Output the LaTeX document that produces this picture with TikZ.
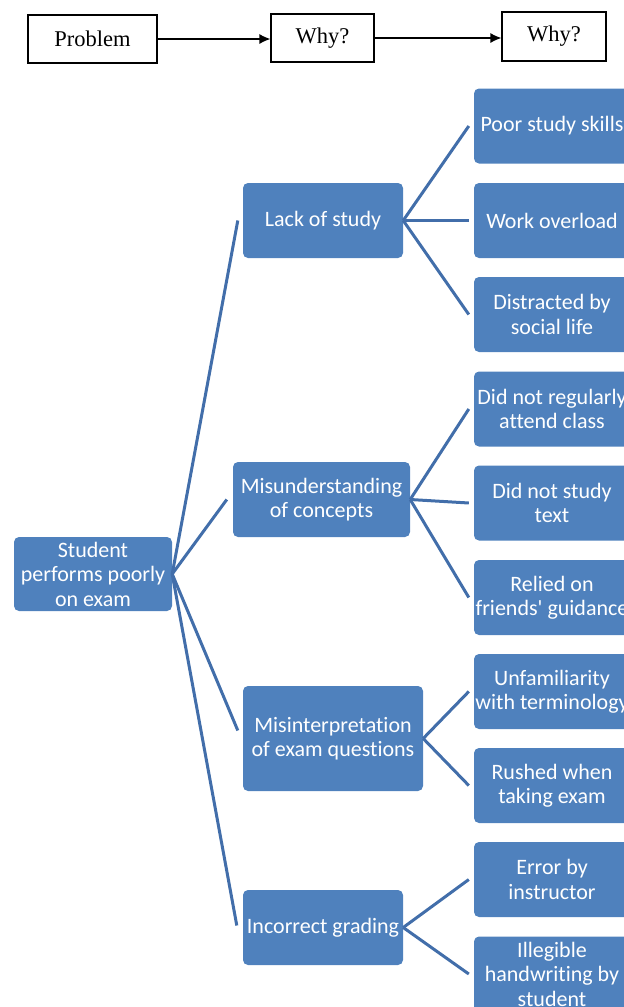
\documentclass[tikz,border=0pt]{standalone}
\usepackage{fontspec}
\setmainfont{Carlito}[Ligatures={NoCommon}]
\newfontfamily\timesf{Liberation Serif}
\usetikzlibrary{calc,arrows.meta}
\definecolor{boxblue}{RGB}{79,129,189}
\definecolor{lineblue}{RGB}{66,110,170}
\tikzset{
  bluebox/.style={rectangle, rounded corners=5pt, fill=boxblue, text=white, align=center,
    inner sep=0pt, minimum height=75pt, font=\fontsize{22}{24.5}\selectfont},
  leafbox/.style={bluebox, minimum width=156pt},
  hdrbox/.style={rectangle, draw=black, line width=1.2pt, fill=white, inner sep=0pt,
    minimum height=48pt, font=\timesf\fontsize{22.5}{26}\selectfont},
  hdrarrow/.style={draw=black, line width=1.2pt, -{Latex[length=11pt,width=10pt]}},
  conn/.style={draw=lineblue, line width=3pt},
}
\begin{document}
\begin{tikzpicture}[x=1pt,y=-1pt]
\useasboundingbox (0,0) rectangle (624,1007);
% header
\node[hdrbox, minimum width=129pt] (prob) at (92.5,39) {Problem};
\node[hdrbox, minimum width=103pt] (why1) at (322.5,38) {Why?};
\node[hdrbox, minimum width=104pt, minimum height=49pt] (why2) at (554,36.5) {Why?};
\draw[hdrarrow] (prob.east) -- (prob.east -| why1.west);
\draw[hdrarrow] (why1.east) -- (why1.east -| why2.west);
% root
\node[bluebox, minimum width=158pt, minimum height=74pt] (root) at (93,574) {Student\\performs poorly\\on exam};
% level 1
\node[bluebox, minimum width=160pt] (lack) at (323,220.5) {Lack of study};
\node[bluebox, minimum width=177pt] (mis) at (321.5,499.5) {Misunderstanding\\of concepts};
\node[bluebox, minimum width=180pt, minimum height=105pt] (interp) at (333,738.5) {Misinterpretation\\of exam questions};
\node[bluebox, minimum width=160pt] (grad) at (323,927.5) {Incorrect grading};
% leaves
\node[leafbox] (l1) at (552,126) {Poor study skills};
\node[leafbox] (l2) at (552,220.5) {Work overload};
\node[leafbox] (l3) at (552,314.5) {Distracted by\\social life};
\node[leafbox] (l4) at (552,409) {Did not regularly\\attend class};
\node[leafbox] (l5) at (552,503) {Did not study\\text};
\node[leafbox] (l6) at (552,597.5) {Relied on\\friends\textquotesingle\ guidance};
\node[leafbox] (l7) at (552,691.5) {Unfamiliarity\\with terminology};
\node[leafbox] (l8) at (552,785.5) {Rushed when\\taking exam};
\node[leafbox] (l9) at (552,879.5) {Error by\\instructor};
\node[leafbox] (l10) at (552,974) {Illegible\\handwriting by\\student};
% connectors from root
\draw[conn] (root.east) -- ($(lack.west)+(-5,0)$);
\draw[conn] (root.east) -- ($(mis.west)+(-6,0)$);
\draw[conn] (root.east) -- ($(interp.west)+(-5,-8)$);
\draw[conn] (root.east) -- ($(grad.west)+(-6,-2)$);
% level 2 connectors
\foreach \p/\c in {lack/l1,lack/l2,lack/l3,mis/l4,mis/l5,mis/l6,interp/l7,interp/l8,grad/l9,grad/l10}{
  \draw[conn] (\p.east) -- ($(\c.west)+(-5,0)$);
}
\end{tikzpicture}
\end{document}
